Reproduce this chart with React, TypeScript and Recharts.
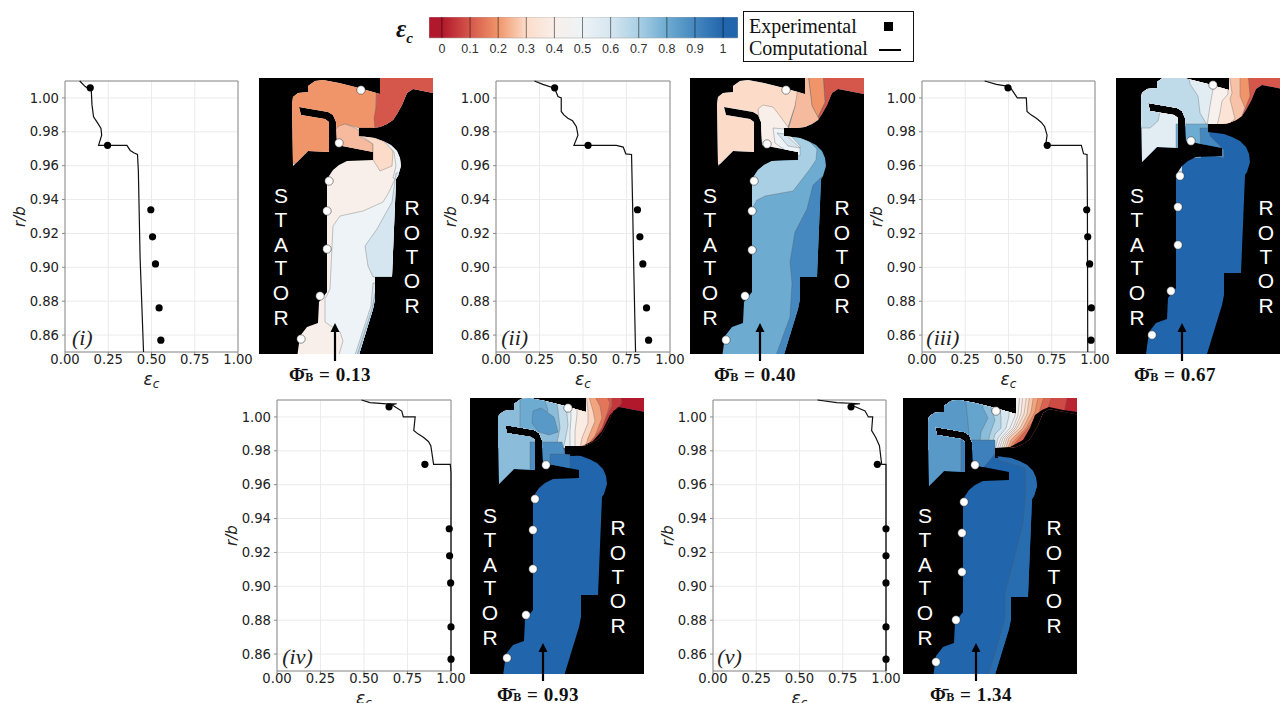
import React from 'react';
import { ScatterChart, Scatter, XAxis, YAxis, CartesianGrid, ReferenceArea, ReferenceLine, Label } from 'recharts';

type P = [number, number];
const xy = (a: P[]) => a.map(([x, y]) => ({ x, y }));

// ---------- profile data (epsilon_c, r/b) ----------
const xTicks = [0, 0.25, 0.5, 0.75, 1];
const yTicks = [0.86, 0.88, 0.9, 0.92, 0.94, 0.96, 0.98, 1.0];
const cbTicks = [0, 0.1, 0.2, 0.3, 0.4, 0.5, 0.6, 0.7, 0.8, 0.9, 1];
const cbTickLabels = ['0', '0.1', '0.2', '0.3', '0.4', '0.5', '0.6', '0.7', '0.8', '0.9', '1'];

const curveI: P[] = [[0.085, 1.01], [0.117, 1.0067], [0.152, 1.0043], [0.156, 0.9959], [0.165, 0.9889], [0.19, 0.985], [0.208, 0.982], [0.212, 0.978], [0.194, 0.972], [0.358, 0.972], [0.377, 0.969], [0.4, 0.9675], [0.419, 0.9666], [0.424, 0.957], [0.434, 0.906], [0.454, 0.85]];
const curveII: P[] = [[0.221, 1.01], [0.269, 1.008], [0.337, 1.0057], [0.356, 1.0008], [0.375, 1.0], [0.375, 0.992], [0.39, 0.99], [0.413, 0.988], [0.44, 0.9865], [0.462, 0.983], [0.471, 0.978], [0.448, 0.972], [0.692, 0.972], [0.731, 0.971], [0.746, 0.967], [0.779, 0.9666], [0.785, 0.9376], [0.792, 0.898], [0.802, 0.85]];
const curveIII: P[] = [[0.362, 1.01], [0.43, 1.008], [0.507, 1.0067], [0.551, 1.0], [0.603, 1.0], [0.607, 0.992], [0.63, 0.99], [0.661, 0.988], [0.69, 0.9855], [0.709, 0.983], [0.723, 0.978], [0.715, 0.972], [0.921, 0.972], [0.934, 0.967], [0.954, 0.9666], [0.956, 0.9376], [0.958, 0.85]];
const curveIV: P[] = [[0.486, 1.01], [0.534, 1.0085], [0.63, 1.0077], [0.688, 1.0078], [0.66, 1.0072], [0.717, 1.0035], [0.726, 1.0], [0.794, 1.0], [0.786, 0.992], [0.81, 0.99], [0.841, 0.988], [0.87, 0.9855], [0.884, 0.983], [0.9, 0.972], [0.996, 0.972], [1, 0.967], [1, 0.85]];
const curveV: P[] = [[0.604, 1.01], [0.715, 1.0085], [0.85, 1.0078], [0.792, 1.0073], [0.879, 1.0035], [0.898, 1.0], [0.923, 1.0], [0.917, 0.992], [0.94, 0.988], [0.962, 0.983], [0.975, 0.972], [1, 0.972], [1, 0.85]];

const expR = [1.006, 0.972, 0.934, 0.918, 0.902, 0.876, 0.857];
const expI = [0.146, 0.246, 0.496, 0.506, 0.523, 0.544, 0.554];
const expII = [0.337, 0.529, 0.813, 0.827, 0.844, 0.865, 0.877];
const expIII = [0.497, 0.724, 0.952, 0.958, 0.969, 0.979, 0.977];
const expIV = [0.644, 0.85, 0.99, 0.992, 0.998, 1, 1];
const expV = [0.798, 0.95, 1, 1, 1, 1, 1];

// ---------- contour map data (map units, y downward; level -1 = solid metal) ----------
const fluidOutline: P[] = [[34, 88], [33, 26], [34, 19], [39, 15], [49, 14], [49, 8], [56, 3], [64, 2], [80, 5], [100, 10], [121, 16], [121, 0], [190, 0], [190, 18], [154, 11], [148, 15], [143, 27], [138, 36], [134, 42], [128, 46], [121, 49], [114, 50], [100, 50], [100, 58], [116, 60], [124, 63], [132, 67], [138, 73], [141, 80], [142, 88], [139, 98], [137, 101], [133, 199], [116, 199], [116, 221], [114, 231], [99, 280], [38, 280], [41, 258], [48, 249], [59, 245], [60, 224], [68, 214], [68, 104], [70, 98], [74, 92], [80, 87], [88, 83], [114, 82], [114, 74], [78, 67], [77, 44], [74, 37], [69, 34], [40, 29], [42, 37], [66, 41], [70, 44], [70, 74], [49, 73], [34, 88]];
const panelFrame: P[] = [[0, 276], [174, 276], [174, 292], [0, 292]];

type Region = { level: number; pts: P[] };
const regionsI: Region[] = [
  { level: 0.2, pts: [[-5, -5], [118, -5], [117, 30], [116, 50], [100, 50], [86, 46], [78, 50], [76, 76], [-5, 95]] },
  { level: 0.1, pts: [[118, -5], [195, -5], [195, 52], [116, 52], [116, 50], [115, 40], [117, 30]] },
  { level: 0.25, pts: [[76, 52], [80, 48], [86, 46], [94, 49], [100, 52], [100, 58], [114, 66], [114, 78], [78, 70]] },
  { level: 0.3, pts: [[100, 56], [116, 60], [124, 63], [131, 68], [134, 74], [133, 88], [121, 93], [118, 88], [114, 82], [114, 66]] },
  { level: 0.5, pts: [[124, 62], [138, 71], [144, 88], [140, 102], [134, 100], [137, 88], [135, 74]] },
  { level: 0.5, pts: [[136, 101], [129, 116], [124, 124], [104, 133], [81, 138], [74, 148], [71, 211], [66, 221], [66, 244], [81, 254], [84, 263], [79, 280], [130, 280], [140, 200], [140, 101]] },
  { level: 0.6, pts: [[137, 95], [133, 124], [118, 151], [106, 168], [109, 188], [114, 199], [145, 199], [145, 95]] },
  { level: 0.6, pts: [[114, 205], [112, 228], [95, 280], [120, 280], [125, 205]] },
  { level: 0.7, pts: [[116, 215], [113, 231], [97, 280], [120, 280], [120, 215]] },
];
const regionsII: Region[] = [
  { level: 0.1, pts: [[133, -5], [195, -5], [195, 60], [128, 60], [128, 39], [135, 24]] },
  { level: 0.2, pts: [[118, -5], [133, -5], [135, 24], [128, 39], [122, 28]] },
  { level: 0.25, pts: [[107, -5], [118, -5], [122, 28], [128, 39], [132, 52], [98, 52], [105, 28]] },
  { level: 0.3, pts: [[-5, -5], [107, -5], [107, 16], [105, 28], [98, 49], [78, 60], [72, 76], [-5, 95]] },
  { level: 0.7, pts: [[98, 54], [120, 64], [127, 71], [126, 82], [120, 91], [103, 113], [75, 118], [67, 122], [62, 131], [50, 131], [50, 78], [98, 78]] },
  { level: 0.4, pts: [[68, 31], [73, 27], [83, 29], [90, 38], [98, 49], [100, 58], [108, 68], [108, 78], [73, 72], [70, 50]] },
  { level: 0.5, pts: [[83, 50], [95, 51], [110, 68], [110, 78], [95, 72], [85, 65]] },
  { level: 0.6, pts: [[87, 55], [95, 56], [110, 70], [98, 68]] },
  { level: 0.9, pts: [[137, 80], [135, 96], [123, 107], [117, 131], [105, 154], [100, 184], [102, 205], [100, 239], [85, 280], [130, 280], [150, 200], [150, 80]] },
];
const regionsIII: Region[] = [
  { level: 0.1, pts: [[-5, -5], [195, -5], [195, 48], [-5, 48]] },
  { level: 0.2, pts: [[-5, -5], [132, -5], [134, 18], [129, 31], [118, 48], [-5, 48]] },
  { level: 0.26, pts: [[-5, -5], [124, -5], [124, 18], [129, 30], [122, 48], [-5, 48]] },
  { level: 0.34, pts: [[-5, -5], [113, -5], [116, 15], [114, 21], [119, 41], [110, 48], [-5, 48]] },
  { level: 0.42, pts: [[-5, -5], [112, -5], [112, 16], [106, 23], [104, 35], [101, 48], [-5, 48]] },
  { level: 0.55, pts: [[-5, -5], [97, -5], [97, 11], [94, 28], [91, 48], [66, 48], [66, 95], [-5, 95]] },
  { level: 0.65, pts: [[-5, -5], [72, -5], [74, 6], [82, 18], [84, 35], [91, 47], [71, 47], [60, 35], [44, 34], [42, 43], [34, 50], [-5, 50]] },
  { level: 0.8, pts: [[60, 46], [92, 46], [92, 60], [85, 68], [85, 80], [60, 80]] },
  { level: 0.9, pts: [[84, 50], [92, 50], [94, 58], [108, 72], [108, 80], [85, 75]] },
];
const regionsIV: Region[] = [
  { level: 0.0, pts: [[-5, -5], [195, -5], [195, 50], [-5, 50]] },
  { level: 0.05, pts: [[-5, -5], [150, -5], [152, 5], [146, 12], [140, 20], [133, 34], [120, 50], [-5, 50]] },
  { level: 0.1, pts: [[-5, -5], [142, -5], [142, 8], [136, 20], [130, 34], [118, 50], [-5, 50]] },
  { level: 0.15, pts: [[-5, -5], [135, -5], [140, 5], [138, 13], [132, 30], [122, 42], [116, 50], [-5, 50]] },
  { level: 0.22, pts: [[-5, -5], [123, -5], [130, 8], [132, 20], [125, 38], [120, 44], [113, 50], [-5, 50]] },
  { level: 0.29, pts: [[-5, -5], [118, -5], [123, 13], [125, 23], [118, 40], [115, 50], [-5, 50]] },
  { level: 0.38, pts: [[-5, -5], [116, -5], [118, 13], [118, 25], [112, 40], [110, 50], [-5, 50]] },
  { level: 0.47, pts: [[-5, -5], [107, -5], [107, 17], [105, 33], [105, 50], [-5, 50]] },
  { level: 0.56, pts: [[-5, -5], [100, -5], [101, 20], [100, 33], [100, 50], [-5, 50]] },
  { level: 0.65, pts: [[-5, -5], [95, -5], [98, 27], [95, 43], [93, 50], [-5, 50]] },
  { level: 0.75, pts: [[-5, -5], [85, -5], [88, 12], [90, 30], [86, 50], [-5, 50]] },
  { level: 0.8, pts: [[-5, -5], [72, -5], [78, 12], [72, 30], [66, 36], [66, 50], [-5, 50]] },
  { level: 0.75, pts: [[-5, -5], [50, -5], [50, 32], [66, 38], [66, 95], [-5, 95]] },
  { level: 0.85, pts: [[62, 25], [63, 13], [71, 10], [84, 19], [88, 34], [79, 37], [69, 34]] },
  { level: -1, pts: [[195, 19], [148, 9], [140, 17], [132, 33], [123, 43], [110, 49], [96, 49], [96, 58], [195, 58]] },
  { level: 0.88, pts: [[60, 44], [92, 44], [96, 60], [80, 70], [80, 80], [60, 80]] },
  { level: 0.95, pts: [[80, 56], [100, 56], [100, 75], [80, 75]] },
];
const regionsV: Region[] = [
  { level: 0.02, pts: [[-5, -5], [195, -5], [195, 52], [-5, 52]] },
  { level: 0.08, pts: [[-5, -5], [165, -5], [160, 20], [130, 40], [110, 52], [-5, 52]] },
  { level: 0.12, pts: [[-5, -5], [150, -5], [145, 10], [130, 32], [110, 52], [-5, 52]] },
  { level: 0.18, pts: [[-5, -5], [142, -5], [136, 15], [125, 30], [112, 45], [108, 52], [-5, 52]] },
  { level: 0.22, pts: [[-5, -5], [136, -5], [132, 14], [123, 30], [110, 44], [106, 52], [-5, 52]] },
  { level: 0.27, pts: [[-5, -5], [131, -5], [128, 14], [120, 30], [108, 42], [104, 52], [-5, 52]] },
  { level: 0.32, pts: [[-5, -5], [127, -5], [124, 16], [117, 30], [106, 40], [102, 52], [-5, 52]] },
  { level: 0.36, pts: [[-5, -5], [124, -5], [121, 16], [114, 30], [104, 40], [100, 52], [-5, 52]] },
  { level: 0.4, pts: [[-5, -5], [120, -5], [118, 16], [112, 30], [102, 40], [98, 52], [-5, 52]] },
  { level: 0.46, pts: [[-5, -5], [117, -5], [115, 17], [110, 30], [100, 40], [96, 52], [-5, 52]] },
  { level: 0.52, pts: [[-5, -5], [112, -5], [112, 18], [107, 30], [98, 40], [94, 52], [-5, 52]] },
  { level: 0.6, pts: [[-5, -5], [106, -5], [106, 18], [103, 30], [95, 40], [92, 52], [-5, 52]] },
  { level: 0.68, pts: [[-5, -5], [96, -5], [98, 20], [98, 30], [92, 36], [88, 52], [-5, 52]] },
  { level: 0.75, pts: [[-5, -5], [87, -5], [88, 10], [92, 22], [87, 36], [85, 45], [80, 52], [-5, 52]] },
  { level: 0.82, pts: [[-5, -5], [78, -5], [80, 10], [85, 20], [78, 34], [76, 52], [-5, 52]] },
  { level: 0.85, pts: [[-5, -5], [62, -5], [66, 36], [62, 95], [-5, 95]] },
  { level: -1, pts: [[195, 17], [160, 12], [146, 9], [139, 12], [132, 17], [127, 30], [120, 42], [107, 49], [92, 50], [92, 60], [195, 60]] },
  { level: 0.92, pts: [[58, 42], [92, 42], [92, 56], [80, 70], [80, 80], [58, 80]] },
  { level: 0.98, pts: [[95, 62], [122, 70], [123, 92], [120, 125], [110, 165], [102, 195], [102, 219], [93, 252], [84, 280], [160, 280], [160, 55], [95, 55]] },
];

const probesI: P[] = [[102, 12], [80, 65], [70, 103], [68, 133], [68, 171], [61, 218], [42, 261]];
const probesII: P[] = [[96, 12], [77, 66], [64, 103], [62, 133], [62, 172], [55, 218], [36, 262]];
const probesIII: P[] = [[97, 7], [75, 63], [64, 98], [62, 129], [62, 167], [55, 213], [36, 257]];
const probesIV: P[] = [[98, 10], [76, 67], [65, 101], [63, 132], [63, 171], [56, 217], [37, 260]];
const probesV: P[] = [[93, 13], [72, 67], [61, 104], [59, 135], [59, 174], [53, 222], [33, 264]];

const statorLetters = ['S', 'T', 'A', 'T', 'O', 'R'];
const statorY = [117, 141, 166, 189, 214, 239];
const rotorLetters = ['R', 'O', 'T', 'O', 'R'];
const rotorY = [129, 154, 178, 202, 227];

const cmapStops: [number, string][] = [[0, '#B2182B'], [0.1, '#D5574B'], [0.2, '#F09569'], [0.25, '#F6BB9E'], [0.3, '#FCDCC9'], [0.4, '#F9EFEA'], [0.5, '#EDF3F6'], [0.6, '#D6E6F0'], [0.7, '#A9CFE4'], [0.8, '#6DABD1'], [0.9, '#4587BF'], [1, '#2166AC']];
const hex = (s: string) => [1, 3, 5].map((i) => parseInt(s.slice(i, i + 2), 16));
function levelColor(v: number) {
  if (v < 0) return '#000';
  for (let i = 1; i < cmapStops.length; i++) {
    const [a, ca] = cmapStops[i - 1];
    const [b, cb] = cmapStops[i];
    if (v <= b) {
      const t = (v - a) / (b - a);
      const A = hex(ca), B = hex(cb);
      return `rgb(${A.map((q, k) => Math.round(q + (B[k] - q) * t)).join(',')})`;
    }
  }
  return '#2166AC';
}

const tickStyle = { fontFamily: 'DejaVu Sans', fontSize: 13.2, fill: '#222' };
const tickLineStyle = { stroke: '#888' };
const noPoint = () => <g />;
const pathOf = (pts: { x: number; y: number }[]) => 'M' + pts.map((p) => `${p.x},${p.y}`).join('L') + 'Z';

function ProfilePanel({ left, top, w, curve, exp, tag, tagX }: { left: number; top: number; w: number; curve: P[]; exp: number[]; tag: string; tagX: number }) {
  const pts = exp.map((x, i) => ({ x, y: expR[i] }));
  return (
    <div style={{ position: 'absolute', left: left - 60, top: top - 5 }}>
      <ScatterChart width={60 + w + 18} height={5 + 271 + 45} margin={{ top: 5, right: 18, bottom: 0, left: 0 }}>
        <CartesianGrid stroke="#ebebeb" strokeWidth={1} />
        <XAxis type="number" dataKey="x" domain={[0, 1]} ticks={xTicks} tickFormatter={(v: number) => v.toFixed(2)} height={45} tick={tickStyle} tickLine={tickLineStyle} tickSize={3} axisLine={false} tickMargin={0} interval={0}>
          <Label content={(p: any) => (
            <text x={p.viewBox.x + p.viewBox.width / 2} y={p.viewBox.y + 33} textAnchor="middle" fontFamily="DejaVu Sans" fontStyle="italic" fontSize={17} fill="#222">ε<tspan fontSize={12} dy={3}>c</tspan></text>
          )} />
        </XAxis>
        <YAxis type="number" dataKey="y" domain={[0.85, 1.01]} ticks={yTicks} tickFormatter={(v: number) => v.toFixed(2)} width={60} tick={tickStyle} tickLine={tickLineStyle} tickSize={3} axisLine={false} tickMargin={3} interval={0}>
          <Label content={(p: any) => (
            <text transform={`translate(${p.viewBox.x + 20},${p.viewBox.y + p.viewBox.height / 2}) rotate(-90)`} textAnchor="middle" fontFamily="DejaVu Sans" fontStyle="italic" fontSize={15} fill="#222">r/b</text>
          )} />
        </YAxis>
        <ReferenceArea x1={0} x2={1} y1={0.85} y2={1.01} fill="none" stroke="#8a8a8a" strokeWidth={1} />
        <Scatter data={xy(curve)} isAnimationActive={false} shape={noPoint} line={{ stroke: '#111', strokeWidth: 1.2 }} lineType="joint" />
        <Scatter data={pts} isAnimationActive={false} shape={(p: any) => <circle cx={p.cx} cy={p.cy} r={3.6} fill="#000" />} />
        <Scatter data={[{ x: tagX, y: 0.8585 }]} isAnimationActive={false} shape={(p: any) => (
          <text x={p.cx} y={p.cy} dominantBaseline="central" fontFamily="Liberation Serif" fontStyle="italic" fontSize={22} fill="#222">{tag}</text>
        )} />
      </ScatterChart>
    </div>
  );
}

function MapPanel({ id, left, top, regions, probes, base, shift, statorX, rotorX, arrowX, labelX, value }: { id: string; left: number; top: number; regions: Region[]; probes: P[]; base: number; shift: P; statorX: number; rotorX: number; arrowX: number; labelX: number; value: string }) {
  const outline = xy(fluidOutline.map(([x, y]) => [x + shift[0], y + shift[1]] as P));
  const clip = `fluid-${id}`;
  return (
    <div style={{ position: 'absolute', left, top }}>
      <ScatterChart width={174} height={316} margin={{ top: 0, right: 0, bottom: 0, left: 0 }}>
        <XAxis hide type="number" dataKey="x" domain={[0, 174]} allowDataOverflow />
        <YAxis hide type="number" dataKey="y" domain={[0, 316]} reversed width={0} allowDataOverflow />
        <Scatter data={xy([[0, 0], [174, 0], [174, 276], [0, 276]])} isAnimationActive={false} shape={noPoint}
          line={(p: any) => <path d={pathOf(p.points)} fill="#000" />} />
        <Scatter data={outline} isAnimationActive={false} shape={noPoint}
          line={(p: any) => (
            <g>
              <clipPath id={clip}><path d={pathOf(p.points)} /></clipPath>
              <path d={pathOf(p.points)} fill={levelColor(base)} />
            </g>
          )} />
        {regions.map((r, i) => (
          <Scatter key={i} data={xy(r.pts)} isAnimationActive={false} shape={noPoint}
            line={(p: any) => <path d={pathOf(p.points)} clipPath={`url(#${clip})`} fill={levelColor(r.level)} stroke={r.level < 0 ? 'none' : '#555'} strokeOpacity={0.55} strokeWidth={0.6} />} />
        ))}
        <Scatter data={xy(panelFrame)} isAnimationActive={false} shape={noPoint}
          line={(p: any) => <path d={pathOf(p.points)} fill="#fff" />} />
        <Scatter data={xy(probes)} isAnimationActive={false} shape={(p: any) => <circle cx={p.cx} cy={p.cy} r={4.2} fill="#fff" stroke="#222" strokeWidth={0.5} />} />
        <Scatter data={statorY.map((y, i) => ({ x: statorX, y, t: statorLetters[i] }))} isAnimationActive={false} shape={(p: any) => (
          <text x={p.cx} y={p.cy} textAnchor="middle" dominantBaseline="central" fontFamily="Liberation Sans" fontSize={21} fill="#fff">{p.t}</text>
        )} />
        <Scatter data={rotorY.map((y, i) => ({ x: rotorX, y, t: rotorLetters[i] }))} isAnimationActive={false} shape={(p: any) => (
          <text x={p.cx} y={p.cy} textAnchor="middle" dominantBaseline="central" fontFamily="Liberation Sans" fontSize={21} fill="#fff">{p.t}</text>
        )} />
        <Scatter data={xy([[arrowX, 283], [arrowX, 245]])} isAnimationActive={false} shape={noPoint}
          line={(p: any) => {
            const [a, b] = p.points;
            return (
              <g>
                <line x1={a.x} y1={a.y} x2={b.x} y2={b.y + 6} stroke="#000" strokeWidth={2.2} />
                <path d={`M${b.x},${b.y}L${b.x - 4.5},${b.y + 9}L${b.x + 4.5},${b.y + 9}Z`} fill="#000" />
              </g>
            );
          }} />
        <Scatter data={[{ x: labelX, y: 296 }]} isAnimationActive={false} shape={(p: any) => (
          <text x={p.cx} y={p.cy} textAnchor="middle" dominantBaseline="central" fontFamily="Liberation Serif" fontWeight="bold" fontSize={19} fill="#111" letterSpacing={0.5}>{'Φ\u0304'}<tspan fontSize={12} dy={3}>B</tspan><tspan dy={-3}>{` = ${value}`}</tspan></text>
        )} />
      </ScatterChart>
    </div>
  );
}

function Colorbar() {
  return (
    <div style={{ position: 'absolute', left: 429, top: 17 }}>
      <ScatterChart width={309} height={44} margin={{ top: 0, right: 0, bottom: 0, left: 0 }}>
        <defs>
          <linearGradient id="cb" x1="0" y1="0" x2="1" y2="0">
            {cbTicks.map((t) => <stop key={t} offset={(t + 0.046) / 1.099} stopColor={levelColor(t)} />)}
          </linearGradient>
        </defs>
        <XAxis type="number" dataKey="x" domain={[-0.046, 1.053]} ticks={cbTicks} tickFormatter={(v: number) => cbTickLabels[cbTicks.indexOf(v)]} interval={0} height={23} tick={{ fontFamily: 'Liberation Sans', fontSize: 12.5, fill: '#333' }} tickLine={false} axisLine={false} tickMargin={0} />
        <YAxis hide type="number" dataKey="y" domain={[0, 1]} width={0} />
        <ReferenceArea x1={-0.046} x2={1.053} y1={0} y2={1} fill="url(#cb)" fillOpacity={1} stroke="#aaa" strokeWidth={0.6} />
        {cbTicks.map((t) => <ReferenceLine key={t} x={t} stroke="#000" strokeOpacity={0.5} strokeWidth={1} />)}
        <Scatter data={cbTicks.map((x) => ({ x, y: 0.5 }))} isAnimationActive={false} shape={noPoint} />
      </ScatterChart>
    </div>
  );
}

export default function App() {
  const serif = 'Liberation Serif';
  return (
    <div style={{ position: 'absolute', left: 0, top: 0, width: 1280, height: 703, overflow: 'hidden', background: '#fff' }}>
      <ProfilePanel left={65} top={81} w={173} curve={curveI} exp={expI} tag="(i)" tagX={0.04} />
      <ProfilePanel left={496} top={81} w={174} curve={curveII} exp={expII} tag="(ii)" tagX={0.03} />
      <ProfilePanel left={922} top={81} w={173} curve={curveIII} exp={expIII} tag="(iii)" tagX={0.025} />
      <ProfilePanel left={277} top={400} w={174} curve={curveIV} exp={expIV} tag="(iv)" tagX={0.03} />
      <ProfilePanel left={713} top={400} w={173} curve={curveV} exp={expV} tag="(v)" tagX={0.025} />

      <MapPanel id="i" left={259} top={78} regions={regionsI} probes={probesI} base={0.4} shift={[0, 0]} statorX={22} rotorX={153} arrowX={76} labelX={71} value="0.13" />
      <MapPanel id="ii" left={690} top={78} regions={regionsII} probes={probesII} base={0.8} shift={[-6, 0]} statorX={20} rotorX={152} arrowX={70} labelX={65} value="0.40" />
      <MapPanel id="iii" left={1116} top={78} regions={regionsIII} probes={probesIII} base={1} shift={[-8, -4]} statorX={21} rotorX={150} arrowX={66} labelX={59} value="0.67" />
      <MapPanel id="iv" left={470} top={398} regions={regionsIV} probes={probesIV} base={1} shift={[-5, -2]} statorX={20} rotorX={148} arrowX={73} labelX={68} value="0.93" />
      <MapPanel id="v" left={903} top={398} regions={regionsV} probes={probesV} base={1} shift={[-8, 0]} statorX={22} rotorX={151} arrowX={73} labelX={68} value="1.34" />

      <Colorbar />
      <div style={{ position: 'absolute', left: 396, top: 15, fontFamily: serif, fontWeight: 'bold', fontStyle: 'italic', fontSize: 25, color: '#111' }}>ε<sub style={{ fontSize: 15 }}>c</sub></div>
      <div style={{ position: 'absolute', left: 743, top: 11, width: 169, height: 49, border: '1px solid #111', fontFamily: serif, fontSize: 20, color: '#111' }}>
        <div style={{ position: 'absolute', left: 5, top: 3, whiteSpace: 'nowrap' }}>Experimental</div>
        <div style={{ position: 'absolute', left: 5, top: 25, whiteSpace: 'nowrap' }}>Computational</div>
        <div style={{ position: 'absolute', left: 140, top: 10, width: 9, height: 9, background: '#000' }} />
        <div style={{ position: 'absolute', left: 135, top: 37, width: 22, height: 2, background: '#000' }} />
      </div>
    </div>
  );
}
